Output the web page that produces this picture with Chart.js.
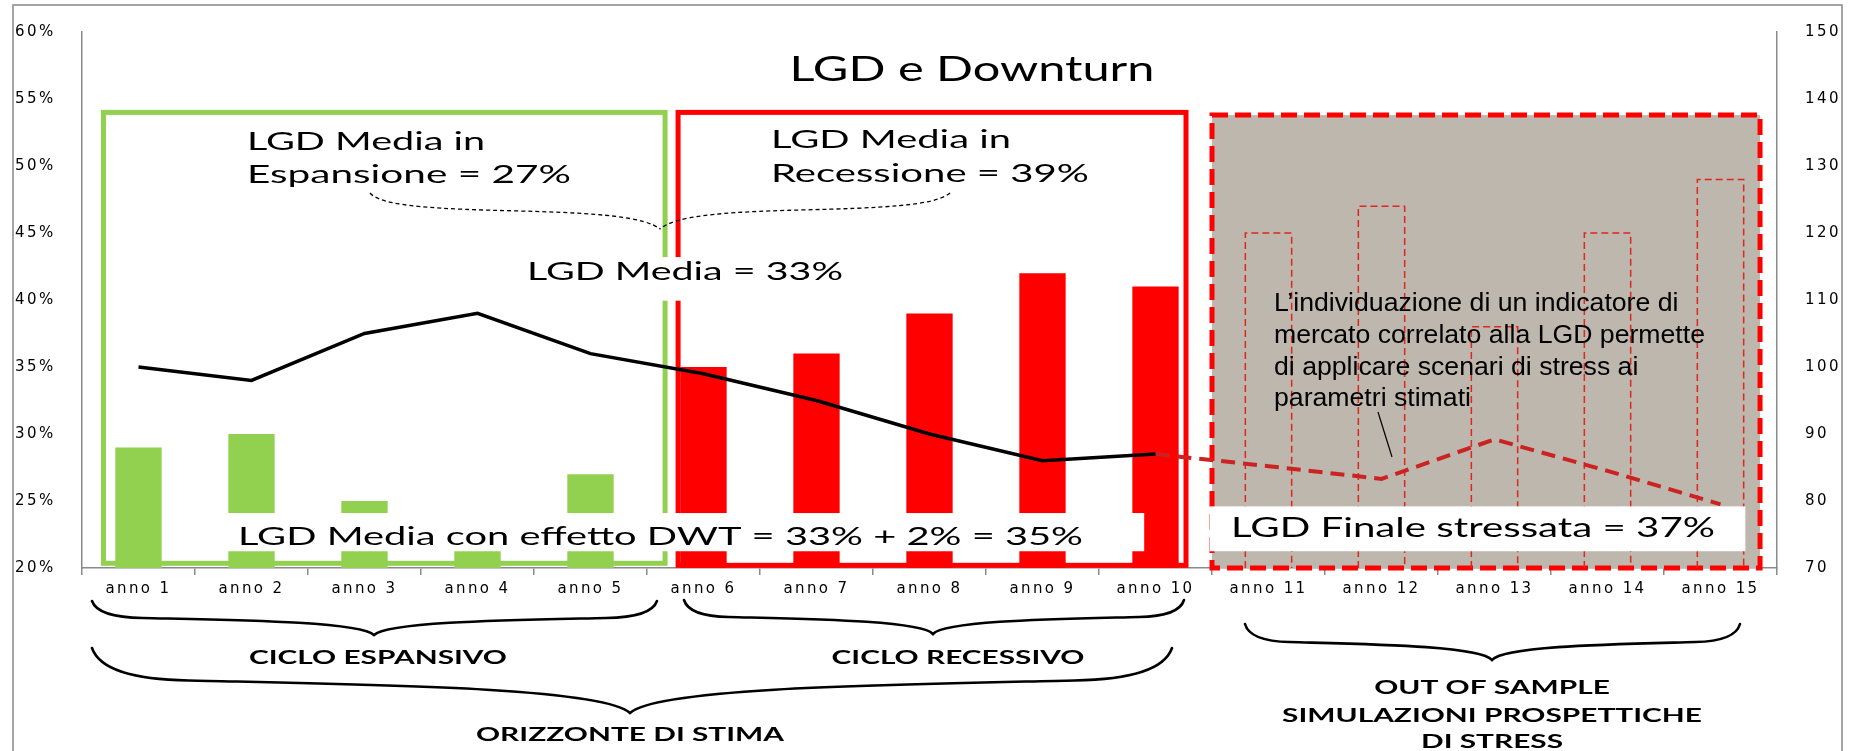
<!DOCTYPE html>
<html>
<head>
<meta charset="utf-8">
<script src="https://cdn.jsdelivr.net/npm/chart.js@4.4.1/dist/chart.umd.min.js"></script>
<style>
html,body{margin:0;padding:0;background:#fff;overflow:hidden}
#wrap{width:1856px;height:751px;position:relative}
</style>
</head>
<body>
<div id="wrap"><canvas id="c" width="1856" height="751"></canvas></div>
<script>
// ---------------- DATA ----------------
const categories = ['anno 1','anno 2','anno 3','anno 4','anno 5','anno 6','anno 7','anno 8',
                    'anno 9','anno 10','anno 11','anno 12','anno 13','anno 14','anno 15'];
const lgdEspansione = [29, 30, 25, 24, 27];          // anno 1-5, LGD %
const lgdRecessione = [35, 36, 39, 42, 41];          // anno 6-10, LGD %
const lgdStressata  = [45, 47, 38, 45, 49];          // anno 11-15, LGD % (dashed outline)
const indicatoreMercato = [100, 98, 105, 108, 102, 99, 95, 90, 86, 87]; // anno 1-10 (right axis)
const indicatoreStress  = [87, 85.2, 83.3, 89.2, 84.5, 79.5];          // anno 10-15 (right axis)
const leftTickValues  = [20, 25, 30, 35, 40, 45, 50, 55, 60];
const rightTickValues = [70, 80, 90, 100, 110, 120, 130, 140, 150];

// ---------------- TABLES BUILT FROM DATA ----------------
const nulls = n => Array(n).fill(null);
const barData      = [...lgdEspansione, ...lgdRecessione, ...nulls(5)];
const barColors    = categories.map((_, i) => i < lgdEspansione.length ? '#92d050' : '#ff0000');
const stressBarData = [...nulls(10), ...lgdStressata];
const lineData     = [...indicatoreMercato, ...nulls(categories.length - indicatoreMercato.length)];
const stressLineData = [...nulls(categories.length - indicatoreStress.length), ...indicatoreStress];

// ---------------- HELPERS ----------------
function drawText(ctx, text, px, py, font, width, align) {
  ctx.save();
  ctx.letterSpacing = '0px';
  ctx.font = font;
  const sx = width / ctx.measureText(text).width;
  ctx.textAlign = align || 'left';
  ctx.textBaseline = 'alphabetic';
  ctx.fillStyle = '#000';
  ctx.translate(px, py);
  ctx.scale(sx, 1);
  ctx.fillText(text, 0, 0);
  ctx.restore();
}
function drawTextSx(ctx, text, px, py, font, sx, align) {
  ctx.save();
  ctx.letterSpacing = '0px';
  ctx.font = font;
  ctx.textAlign = align || 'left';
  ctx.textBaseline = 'alphabetic';
  ctx.fillStyle = '#000';
  ctx.translate(px, py);
  ctx.scale(sx, 1);
  ctx.fillText(text, 0, 0);
  ctx.restore();
}
function measureSx(ctx, text, font, width) {
  ctx.save(); ctx.letterSpacing = '0px'; ctx.font = font;
  const w = ctx.measureText(text).width; ctx.restore();
  return width / w;
}
function brace(ctx, x1, x2, yTop, yBot, xm) {
  const h = yBot - yTop, Ll = xm - x1, Lr = x2 - xm;
  ctx.beginPath();
  ctx.moveTo(x1, yTop);
  ctx.quadraticCurveTo(x1 + 0.02 * Ll, yTop + 0.48 * h, x1 + 0.18 * Ll, yTop + 0.5 * h);
  ctx.bezierCurveTo(x1 + 0.5 * Ll, yTop + 0.56 * h, xm - 0.05 * Ll, yTop + 0.6 * h, xm, yBot);
  ctx.bezierCurveTo(xm + 0.05 * Lr, yTop + 0.6 * h, x2 - 0.5 * Lr, yTop + 0.56 * h, x2 - 0.18 * Lr, yTop + 0.5 * h);
  ctx.quadraticCurveTo(x2 - 0.02 * Lr, yTop + 0.48 * h, x2, yTop);
  ctx.stroke();
}
function rectIdx(chart, i0, i1, v0, v1) {
  const x = chart.scales.x, y = chart.scales.y;
  const xa = x.getPixelForValue(i0), xb = x.getPixelForValue(i1);
  const ya = y.getPixelForValue(v0), yb = y.getPixelForValue(v1);
  return [xa, ya, xb - xa, yb - ya];
}

// ---------------- PLUGINS ----------------
const spacingPlugin = {
  id: 'spacing',
  beforeUpdate(chart) { chart.ctx.letterSpacing = '2.4px'; },
  beforeDraw(chart) { chart.ctx.letterSpacing = '2.4px'; }
};

const decorPlugin = {
  id: 'decor',
  beforeDatasetsDraw(chart) {
    const ctx = chart.ctx;
    ctx.save();
    ctx.letterSpacing = '0px';
    // stress scenario region
    let r = rectIdx(chart, 9.5, 14.35, 53.8, 20);
    ctx.fillStyle = '#bdb7ad';
    ctx.fillRect(r[0], r[1], r[2], r[3]);
    ctx.strokeStyle = '#ff0000';
    ctx.lineWidth = 5;
    ctx.setLineDash([16, 7]);
    ctx.strokeRect(r[0], r[1], r[2], r[3]);
    ctx.setLineDash([]);
    // expansion box
    r = rectIdx(chart, -0.31, 4.66, 54, 20.35);
    ctx.strokeStyle = '#92d050';
    ctx.lineWidth = 5;
    ctx.strokeRect(r[0], r[1], r[2], r[3]);
    // recession box
    r = rectIdx(chart, 4.775, 9.27, 54, 20.2);
    ctx.strokeStyle = '#ff0000';
    ctx.strokeRect(r[0], r[1], r[2], r[3]);
    ctx.restore();
  },
  afterDatasetDraw(chart, args) {
    if (args.meta.label !== 'LGD stressata') return;
    const ctx = chart.ctx;
    const bottom = chart.chartArea.bottom;
    ctx.save();
    ctx.strokeStyle = '#e0261f';
    ctx.lineWidth = 1.5;
    ctx.setLineDash([7, 4]);
    args.meta.data.forEach((el, i) => {
      if (stressBarData[i] === null) return;
      const p = el.getProps(['x', 'y', 'base', 'width'], true);
      const l = p.x - p.width / 2, rr = p.x + p.width / 2;
      const b = Math.min(p.base, bottom);
      ctx.beginPath();
      ctx.moveTo(l, b);
      ctx.lineTo(l, p.y);
      ctx.lineTo(rr, p.y);
      ctx.lineTo(rr, b);
      ctx.stroke();
    });
    ctx.restore();
  },
  afterDatasetsDraw(chart) {
    const ctx = chart.ctx;
    ctx.save();
    ctx.letterSpacing = '0px';
    ctx.fillStyle = '#fff';
    // white label backgrounds
    let r = rectIdx(chart, 3.36, 6.31, 43.2, 39.95);
    ctx.fillRect(r[0], r[1], r[2], r[3]);
    r = rectIdx(chart, 0.765, 8.9, 24.1, 21.25);
    ctx.fillRect(r[0], r[1], r[2], r[3]);
    r = rectIdx(chart, 9.48, 14.22, 24.6, 21.25);
    ctx.fillRect(r[0], r[1], r[2], r[3]);

    // dashed connectors
    ctx.strokeStyle = '#000';
    ctx.lineWidth = 1.3;
    ctx.setLineDash([4, 3]);
    ctx.beginPath();
    ctx.moveTo(370, 193);
    ctx.bezierCurveTo(382, 207, 440, 209, 520, 211);
    ctx.bezierCurveTo(600, 213, 645, 217, 660, 229);
    ctx.moveTo(950, 193);
    ctx.bezierCurveTo(935, 206, 880, 208, 800, 210);
    ctx.bezierCurveTo(720, 212, 675, 216, 660, 229);
    ctx.stroke();
    ctx.setLineDash([]);

    // leader line
    ctx.lineWidth = 1.2;
    ctx.beginPath();
    ctx.moveTo(1378, 412);
    ctx.lineTo(1392, 457);
    ctx.stroke();

    // texts
    const F = '25px Lato';
    drawText(ctx, 'LGD e Downturn', 972, 81, '34px Lato', 365, 'center');
    drawText(ctx, 'LGD Media in', 247, 150, F, 238);
    drawText(ctx, 'Espansione = 27%', 247, 183, F, 324);
    drawText(ctx, 'LGD Media in', 771, 148, F, 240);
    drawText(ctx, 'Recessione = 39%', 771, 182, F, 318);
    drawText(ctx, 'LGD Media = 33%', 527, 280, F, 316);
    drawText(ctx, 'LGD Media con effetto DWT = 33% + 2% = 35%', 238, 545, F, 845);
    drawText(ctx, 'LGD Finale stressata = 37%', 1231, 537, '26px Lato', 484);

    const PF = '25px "Liberation Sans", Arial, sans-serif';
    const psx = measureSx(ctx, 'mercato correlato alla LGD permette', PF, 431);
    drawTextSx(ctx, 'L\u2019individuazione di un indicatore di', 1274, 311, PF, psx);
    drawTextSx(ctx, 'mercato correlato alla LGD permette', 1274, 343, PF, psx);
    drawTextSx(ctx, 'di applicare scenari di stress ai', 1274, 375, PF, psx);
    drawTextSx(ctx, 'parametri stimati', 1274, 406, PF, psx);

    // braces
    ctx.strokeStyle = '#000';
    ctx.lineWidth = 2.6;
    ctx.lineCap = 'round';
    brace(ctx, 92, 657, 601, 635, 374);
    brace(ctx, 684, 1184, 600, 634, 933);
    brace(ctx, 92, 1172, 648, 713, 630);
    brace(ctx, 1245, 1740, 624, 660, 1492);

    const BF = 'bold 18px Lato';
    const bsx = measureSx(ctx, 'ORIZZONTE DI STIMA', BF, 308);
    drawTextSx(ctx, 'CICLO ESPANSIVO', 378, 664, BF, bsx, 'center');
    drawTextSx(ctx, 'CICLO RECESSIVO', 958, 664, BF, bsx, 'center');
    drawTextSx(ctx, 'ORIZZONTE DI STIMA', 630, 741, BF, bsx, 'center');
    drawTextSx(ctx, 'OUT OF SAMPLE', 1492, 694, BF, bsx, 'center');
    drawTextSx(ctx, 'SIMULAZIONI PROSPETTICHE', 1492, 722, BF, bsx, 'center');
    drawTextSx(ctx, 'DI STRESS', 1492, 748, BF, bsx, 'center');

    // outer frame
    ctx.strokeStyle = '#8f8f8f';
    ctx.lineWidth = 1.6;
    ctx.strokeRect(13, 5, 1829, 800);
    ctx.restore();
  }
};

// ---------------- CHART ----------------
const tickFont = { family: '"DejaVu Sans", Verdana, sans-serif', size: 15 };
const axisGray = '#8a8a8a';

new Chart(document.getElementById('c').getContext('2d'), {
  type: 'bar',
  data: {
    labels: categories,
    datasets: [
      { type: 'line', label: 'Indicatore di mercato', data: lineData, yAxisID: 'y1',
        borderColor: '#000', borderWidth: 3.5, pointRadius: 0, tension: 0, order: 0, fill: false },
      { type: 'line', label: 'Indicatore stressato', data: stressLineData, yAxisID: 'y1',
        borderColor: '#cc2222', borderWidth: 4, borderDash: [14, 8], pointRadius: 0, tension: 0, order: 1, fill: false },
      { label: 'LGD stressata', data: stressBarData, yAxisID: 'y', backgroundColor: 'rgba(0,0,0,0)',
        borderWidth: 0, barPercentage: 0.41, categoryPercentage: 1, grouped: false, order: 2 },
      { label: 'LGD', data: barData, yAxisID: 'y', backgroundColor: barColors,
        borderWidth: 0, barPercentage: 0.41, categoryPercentage: 1, grouped: false, order: 3 }
    ]
  },
  options: {
    responsive: false,
    animation: false,
    devicePixelRatio: 1,
    layout: { padding: { left: 15, right: 0, top: 15, bottom: 153 } },
    plugins: { legend: { display: false }, tooltip: { enabled: false }, title: { display: false } },
    scales: {
      x: {
        offset: true,
        grid: { display: true, offset: true, drawOnChartArea: false, drawTicks: true, tickLength: 7,
                color: axisGray, lineWidth: 1.5 },
        border: { display: true, color: axisGray, width: 1.5 },
        ticks: { font: tickFont, color: '#000', padding: 5, maxRotation: 0, autoSkip: false },
        afterFit: s => { s.height = 30; }
      },
      y: {
        position: 'left', min: 20, max: 60,
        grid: { display: false },
        border: { display: true, color: axisGray, width: 1.5 },
        afterBuildTicks: s => { s.ticks = leftTickValues.map(v => ({ value: v })); },
        ticks: { font: tickFont, color: '#000', padding: 23, crossAlign: 'far', callback: v => v + '%' },
        afterFit: s => { s.width = 67; }
      },
      y1: {
        position: 'right', min: 70, max: 150,
        grid: { display: false },
        border: { display: true, color: axisGray, width: 1.5 },
        afterBuildTicks: s => { s.ticks = rightTickValues.map(v => ({ value: v })); },
        ticks: { font: tickFont, color: '#000', padding: 20, callback: v => String(v) },
        afterFit: s => { s.width = 79; }
      }
    }
  },
  plugins: [spacingPlugin, decorPlugin]
});
</script>
</body>
</html>
